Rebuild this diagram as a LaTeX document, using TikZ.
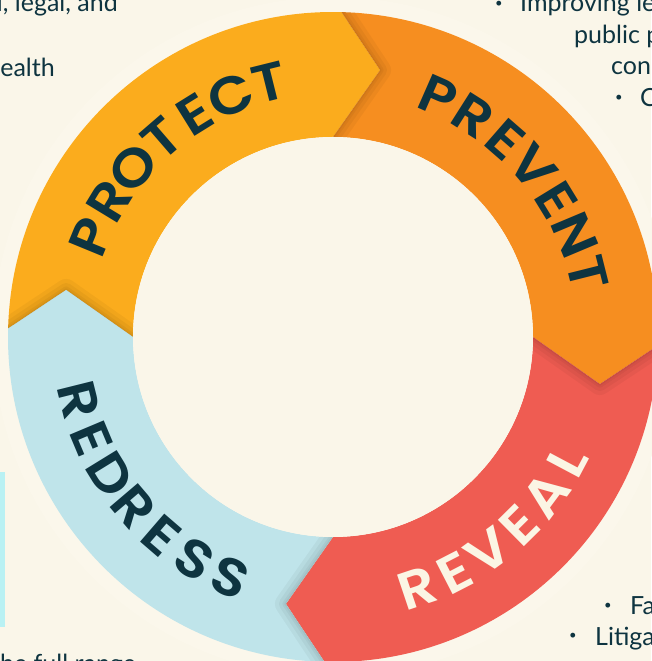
\documentclass[tikz,border=0pt]{standalone}
\usepackage{fontspec}
\setmainfont{Lato}
\newfontfamily\labfont{Poppins SemiBold}[FakeStretch=1.1]
\usetikzlibrary{calc}
\definecolor{bg}{HTML}{FAF6E9}
\definecolor{glow}{HTML}{FBF7EB}
\definecolor{cprotect}{HTML}{FBAC1D}
\definecolor{cprevent}{HTML}{F68E20}
\definecolor{creveal}{HTML}{EF5C52}
\definecolor{credress}{HTML}{BFE4EA}
\definecolor{ink}{HTML}{0E3440}
\definecolor{cream}{HTML}{FBF5E4}
\definecolor{cyanbar}{HTML}{B9F1F3}
\newcommand\segpath[1]{({#1-1.5}:325pt) arc[start angle={#1-1.5}, end angle={#1-91.5}, radius=325pt] -- ({#1-100}:271pt) -- ({#1-90}:200pt) arc[start angle={#1-90}, end angle={#1}, radius=200pt] -- ({#1-10}:271pt) -- cycle}
\newcommand\notchline[1]{({#1-1.2}:340pt) -- ({#1-1.5}:325pt) -- ({#1-10}:271pt) -- (#1:200pt) -- ({#1+0.5}:185pt)}
\tikzset{
  lab/.style={font=\labfont\fontsize{53}{53}\selectfont, inner sep=0pt, anchor=center},
  body/.style={font=\fontsize{25}{30}\selectfont, text=ink, inner sep=0pt},
  bul/.style={font=\fontsize{13}{13}\selectfont, text=ink, inner sep=0pt, anchor=center},
  shade1/.style={draw=black, draw opacity=0.04, line join=round},
}
\begin{document}
\begin{tikzpicture}[x=1pt,y=1pt]
\useasboundingbox (0,0) rectangle (651,661);
\fill[bg] (0,0) rectangle (651,661);
\fill[cyanbar] (0,34) rectangle (5,189);
\begin{scope}[shift={(333,324)}]
  \fill[glow] (0,0) circle[radius=340pt];
  \fill[cprotect] \segpath{180};
  \fill[cprevent] \segpath{90};
  \fill[creveal] \segpath{0};
  \fill[credress] \segpath{-90};
  \foreach \s in {180,90,0,-90}{
    \begin{scope}
      \clip \segpath{\s};
      \draw[shade1, line width=22pt] \notchline{\s};
      \draw[shade1, line width=14pt] \notchline{\s};
      \draw[shade1, line width=7pt] \notchline{\s};
      \draw[shade1, line width=3pt] \notchline{\s};
    \end{scope}
  }
  \fill[bg] (0,0) circle[radius=200pt];
  % labels
  \foreach \ch [count=\i] in {P,R,O,T,E,C,T}
    \node[lab, text=ink, rotate={130.8+3*8.95-(\i-1)*8.95-90}] (protect\i) at ({130.8+3*8.95-(\i-1)*8.95}:262pt) {\ch};
  \foreach \ch [count=\i] in {P,R,E,V,E,N,T}
    \node[lab, text=ink, rotate={40.2+3*8.7-(\i-1)*8.7-90}] (prevent\i) at ({40.2+3*8.7-(\i-1)*8.7}:262pt) {\ch};
  \foreach \ch [count=\i] in {R,E,V,E,A,L}
    \node[lab, text=cream, rotate={-49.7-2.5*8.7+(\i-1)*8.7+90}] (reveal\i) at ({-49.7-2.5*8.7+(\i-1)*8.7}:265pt) {\ch};
  \foreach \ch [count=\i] in {R,E,D,R,E,S,S}
    \node[lab, text=ink, rotate={220.4-3*8.8+(\i-1)*8.8+90}] (redress\i) at ({220.4-3*8.8+(\i-1)*8.8}:262pt) {\ch};
\end{scope}
% side texts
\node[body, anchor=base east] (tl1) at (118,649) {l, legal, and};
\node[body, anchor=base east] (tl2) at (55,584) {ealth};
\node[bul] (b1) at (499,657) {•};
\node[body, anchor=base west] (tr1) at (520,649) {Improving le};
\node[body, anchor=base west] (tr2) at (574,617) {public p};
\node[body, anchor=base west] (tr3) at (611,586) {con};
\node[bul] (b2) at (619,563) {•};
\node[body, anchor=base west] (tr4) at (640,554) {C};
\node[bul] (b3) at (608,55) {•};
\node[body, anchor=base west] (br1) at (630,46) {Fa};
\node[bul] (b4) at (573,25) {•};
\node[body, anchor=base west] (br2) at (595,16) {Litiga};
\node[body, anchor=base west] (bl1) at (0,-11) {he full range};
\end{tikzpicture}
\end{document}
